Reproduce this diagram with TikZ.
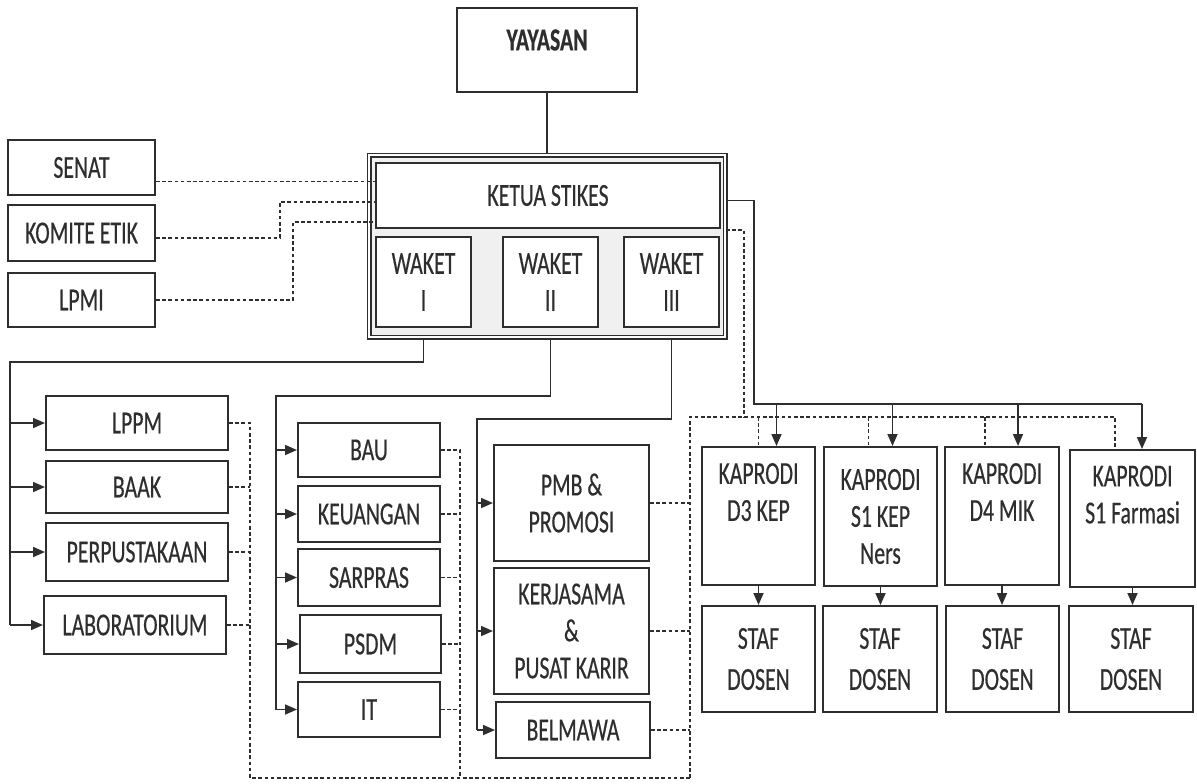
\documentclass[tikz,border=0pt]{standalone}
\usepackage{fontspec}
\setmainfont{Carlito}[FakeStretch=0.68,FakeBold=0.4]
\usetikzlibrary{positioning,arrows.meta,calc}
\definecolor{ink}{gray}{0.18}
\tikzset{
  box/.style={draw=ink, line width=1pt, align=center, inner sep=0pt, fill=white, text=ink},
  framebox/.style={draw=ink, line width=0.9pt, double, double distance=0.7pt, fill=gray!12, inner sep=0pt},
  conn/.style={draw=ink, line width=0.85pt},
  arr/.style={conn, -{Triangle[length=6pt,width=5pt]}},
  dotline/.style={draw=ink, line width=0.75pt, dash pattern=on 1.8pt off 1.3pt},
}
% box from its corners (x1,y1) (x2,y2), in pixel units
\newcommand{\orgunit}[6]{%
  \node[box, minimum width={(#4-#2)*0.5pt}, minimum height={(#5-#3)*0.5pt}]
    (#1) at ({(#2+#4)/2},{(#3+#5)/2}) {#6};}

\begin{document}
\begin{tikzpicture}[x=0.5pt,y=-0.5pt,font=\fontsize{16}{18.5}\selectfont]
\useasboundingbox (0,0) rectangle (1197,783);
% top
\orgunit{yayasan}{457}{8}{637}{92}{}
\node[text=ink, font=\fontsize{16}{18.5}\selectfont\bfseries] (yayasantext) at (547,40) {YAYASAN};
\node[framebox, minimum width=178pt, minimum height=91pt] (frame) at (547,246) {};
\orgunit{ketua}{376}{163}{720}{228}{KETUA STIKES}
\orgunit{waket1}{376}{237}{471}{327}{WAKET\\I}
\orgunit{waket2}{503}{237}{598}{327}{WAKET\\II}
\orgunit{waket3}{624}{237}{719}{327}{WAKET\\III}
% advisory units
\orgunit{senat}{8}{140}{155}{195}{SENAT}
\orgunit{komite}{8}{205}{155}{261}{KOMITE ETIK}
\orgunit{lpmi}{8}{273}{155}{327}{LPMI}
% waket I units
\orgunit{lppm}{46}{396}{228}{450}{LPPM}
\orgunit{baak}{46}{461}{228}{513}{BAAK}
\orgunit{perpus}{46}{523}{228}{581}{PERPUSTAKAAN}
\orgunit{lab}{44}{596}{226}{654}{LABORATORIUM}
% waket II units
\orgunit{bau}{298}{423}{440}{477}{BAU}
\orgunit{keu}{298}{486}{440}{542}{KEUANGAN}
\orgunit{sarpras}{298}{549}{440}{606}{SARPRAS}
\orgunit{psdm}{300}{615}{441}{673}{PSDM}
\orgunit{it}{298}{682}{440}{737}{IT}
% waket III units
\orgunit{pmb}{494}{445}{649}{561}{PMB \&\\PROMOSI}
\orgunit{kerja}{494}{568}{649}{694}{KERJASAMA\\\&\\PUSAT KARIR}
\orgunit{belmawa}{496}{702}{650}{758}{BELMAWA}
% study programmes
\orgunit{kp1}{702}{447}{815}{585}{KAPRODI\\D3 KEP\\\strut}
\orgunit{kp2}{824}{447}{937}{586}{KAPRODI\\S1 KEP\\Ners}
\orgunit{kp3}{945}{447}{1059}{585}{KAPRODI\\D4 MIK\\\strut}
\orgunit{kp4}{1070}{450}{1195}{587}{KAPRODI\\S1 Farmasi\\\strut}
\foreach \i/\xa/\xb in {1/702/815,2/823/937,3/946/1059,4/1069/1193}
  {\orgunit{staf\i}{\xa}{606}{\xb}{712}{STAF\\[2pt]DOSEN}}

% yayasan to ketua
\draw[conn] (yayasan.south) -- (frame.north);
% advisory lines
\coordinate (senatend) at ($(senat.east)+(0,14)$);
\draw[dotline] (senatend) -- (senatend -| ketua.west);
\coordinate (komiteend) at ($(komite.east)+(0,5)$);
\coordinate (komitebend) at (280,202);
\draw[dotline] (komiteend) -| (komitebend) -- (komitebend -| ketua.west);
\coordinate (lpmibend) at (293,222);
\draw[dotline] (lpmi.east) -| (lpmibend) -- (lpmibend -| ketua.west);

% command lines from the waket
\coordinate (busa) at (10,362);
\draw[conn] (waket1.south |- frame.south) |- (busa) -- (busa |- lab.west);
\foreach \n in {lppm,baak,perpus,lab} \draw[arr] (busa |- \n.west) -- (\n.west);
\coordinate (busb) at (276,396);
\draw[conn] (waket2.south |- frame.south) |- (busb) -- (busb |- it.west);
\foreach \n in {bau,keu,sarpras,psdm,it} \draw[arr] (busb |- \n.west) -- (\n.west);
\coordinate (busc) at (477,419);
\draw[conn] (waket3.south |- frame.south) |- (busc) -- (busc |- belmawa.west);
\foreach \n in {pmb,kerja,belmawa} \draw[arr] (busc |- \n.west) -- (\n.west);

% coordination lines
\coordinate (cola) at (250,778);
\coordinate (colb) at (460,778);
\coordinate (colc) at (690,778);
\draw[dotline] (lppm.east) -| (cola) -- (colc);
\foreach \n in {baak,perpus,lab} \draw[dotline] (\n.east) -- (\n.east -| cola);
\draw[dotline] (bau.east) -| (colb);
\foreach \n in {keu,sarpras,psdm,it} \draw[dotline] (\n.east) -- (\n.east -| colb);
\foreach \n in {pmb,kerja,belmawa} \draw[dotline] (\n.east) -- (\n.east -| colc);
\coordinate (rowc) at (1115,417);
\draw[dotline] (colc) |- (rowc) -- (rowc |- kp4.north);
\foreach \n/\s in {kp1/0pt,kp2/-6pt,kp3/-8.5pt} {
  \coordinate (d) at ([xshift=\s]\n.north);
  \draw[dotline] (d |- rowc) -- (d);
}
\coordinate (frameout) at ($(frame.east)+(0,-16)$);
\coordinate (dropc) at (744,417);
\draw[dotline] (frameout) -| (dropc);

% ketua to kaprodi
\coordinate (ketuaout) at ($(ketua.east)+(0,5)$);
\coordinate (busd) at (754,404);
\coordinate (busdend) at (1142,404);
\draw[conn] (ketuaout -| frame.east) -| (busd) -- (busdend);
\foreach \n/\s in {kp1/9pt,kp2/6pt,kp3/8pt,kp4/4.75pt} {
  \coordinate (a) at ([xshift=\s]\n.north);
  \draw[arr] (a |- busd) -- (a);
}
\foreach \i in {1,...,4} \draw[arr] (kp\i.south) -- (kp\i.south |- staf\i.north);
\end{tikzpicture}
\end{document}
